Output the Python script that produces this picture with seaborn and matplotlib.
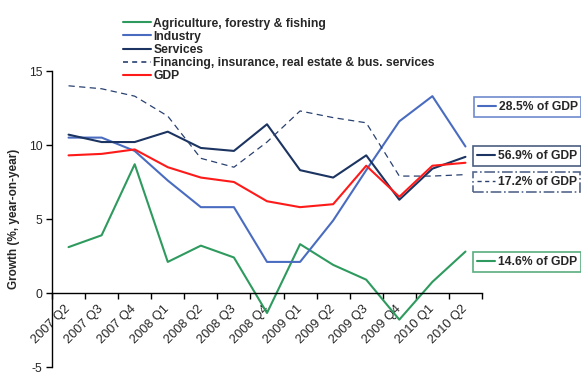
import matplotlib
matplotlib.use("Agg")
import matplotlib.pyplot as plt
from matplotlib.lines import Line2D
import seaborn as sns
import numpy as np

quarters = ["2007 Q2", "2007 Q3", "2007 Q4", "2008 Q1", "2008 Q2", "2008 Q3", "2008 Q4",
            "2009 Q1", "2009 Q2", "2009 Q3", "2009 Q4", "2010 Q1", "2010 Q2"]
agriculture = [3.1, 3.9, 8.7, 2.1, 3.2, 2.4, -1.35, 3.3, 1.9, 0.9, -1.8, 0.75, 2.8]
industry = [10.5, 10.5, 9.6, 7.6, 5.8, 5.8, 2.1, 2.1, 4.9, 8.3, 11.6, 13.3, 9.9]
services = [10.7, 10.2, 10.2, 10.9, 9.8, 9.6, 11.4, 8.3, 7.8, 9.3, 6.3, 8.4, 9.2]
financing = [14.0, 13.8, 13.3, 11.95, 9.1, 8.5, 10.2, 12.3, 11.85, 11.5, 7.9, 7.9, 8.0]
gdp = [9.3, 9.4, 9.7, 8.5, 7.8, 7.5, 6.2, 5.8, 6.0, 8.6, 6.5, 8.6, 8.8]

labels = ["Agriculture, forestry & fishing", "Industry", "Services",
          "Financing, insurance, real estate & bus. services", "GDP"]
shares = ["14.6% of GDP", "28.5% of GDP", "56.9% of GDP", "17.2% of GDP"]

c_agri = "#2e9a5e"
c_ind = "#4a6cc0"
c_serv = "#1c3461"
c_fin = "#2a4170"
c_gdp = "#ff1a1a"

sns.set_style("white")
plt.rcParams["font.family"] = ["Liberation Sans", "DejaVu Sans"]
plt.rcParams["axes.unicode_minus"] = False

fig = plt.figure(figsize=(5.81, 3.72), dpi=100)
W, H = 581, 372
ax = fig.add_axes([52 / W, 1 - 367 / H, (482 - 52) / W, (367 - 71) / H])

x = np.arange(len(quarters))
series = [
    (agriculture, c_agri, "-", 1.5),
    (industry, c_ind, "-", 1.5),
    (services, c_serv, "-", 1.5),
    (financing, c_fin, (0, (5, 3.5)), 0.9),
    (gdp, c_gdp, "-", 1.5),
]
handles = []
for (vals, col, ls, lw), lab in zip(series, labels):
    sns.lineplot(x=x, y=vals, ax=ax, color=col, linewidth=lw, sort=False, label=lab)
    ln = ax.get_lines()[-1]
    ln.set_linestyle(ls)
    handles.append(Line2D([], [], color=col, linewidth=lw if lw > 1 else 1.2,
                          linestyle=ls if lw > 1 else (0, (3, 2.5))))
ax.get_legend().remove()

for s in ["top", "right"]:
    ax.spines[s].set_visible(False)
ax.spines["bottom"].set_position(("data", 0))
ax.spines["bottom"].set_color("black")
ax.spines["left"].set_color("black")
ax.spines["bottom"].set_linewidth(1)
ax.spines["left"].set_linewidth(1)
ax.grid(False)
ax.set_xlabel("")
ax.set_ylabel("Growth (%, year-on-year)", fontsize=8.5, fontweight="bold", labelpad=6)

ax.set_xlim(-0.5, len(quarters) - 0.5)
ax.set_ylim(-5, 15)
ax.tick_params(axis="y", which="major", direction="out", length=4, width=1, color="black",
               labelsize=8.8, pad=3, left=True)
ax.tick_params(axis="x", which="major", length=0, labelsize=9.2, pad=10)
ax.tick_params(axis="x", which="minor", direction="out", length=4, width=1, color="black", bottom=True)
ax.set_yticks([-5, 0, 5, 10, 15])
ax.set_xticks(np.arange(-0.5, len(quarters), 1.0), minor=True)
ax.set_xticks(x, labels=quarters, rotation=45, ha="right", va="center",
              rotation_mode="anchor")

leg = fig.legend(handles, labels, loc="upper left", bbox_to_anchor=(123 / W, 1 - 17.5 / H),
                 frameon=False, prop={"weight": "bold", "size": 8.7},
                 handlelength=2.35, handletextpad=0.15, labelspacing=0.1, borderpad=0,
                 borderaxespad=0)

def box(txt, col, ls, frame_ls, yc, x0):
    h = Line2D([], [], color=col, linewidth=1.5 if ls == "-" else 1.0, linestyle=ls)
    lg = fig.legend([h], [txt], loc="center left", bbox_to_anchor=(x0 / W, 1 - yc / H),
                    frameon=True, fancybox=False, prop={"weight": "bold", "size": 8.7},
                    handlelength=1.5, handletextpad=0.25, borderpad=0.3, borderaxespad=0)
    fr = lg.get_frame()
    fr.set_edgecolor(col)
    fr.set_linewidth(1.2)
    fr.set_linestyle(frame_ls)
    fr.set_facecolor("white")
    return lg

box(shares[1], c_ind, "-", "-", 107, 474)
box(shares[2], c_serv, "-", "-", 156, 473)
box(shares[3], c_fin, (0, (3, 2.5)), "-.", 182, 473)
box(shares[0], c_agri, "-", "-", 262, 473)

fig.savefig("out.png", dpi=100)
